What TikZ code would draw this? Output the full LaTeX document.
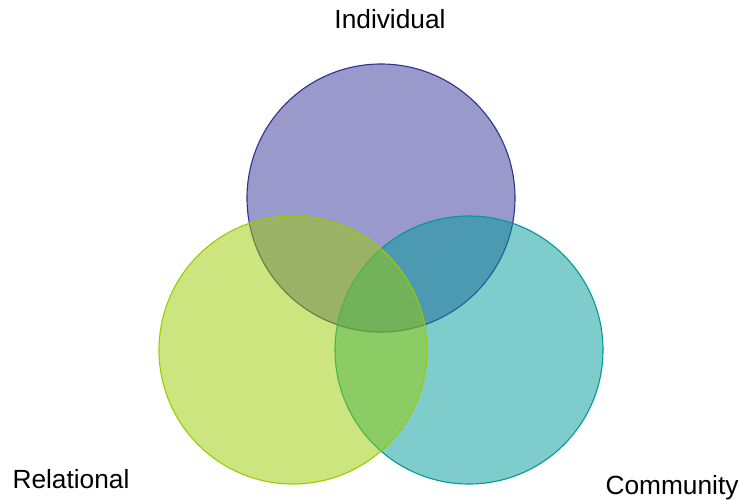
\documentclass[tikz,border=0pt]{standalone}
\usepackage{fontspec}
\setmainfont{Liberation Sans}
\definecolor{indfill}{HTML}{333399}
\definecolor{indline}{HTML}{2E3192}
\definecolor{relfill}{HTML}{99CC00}
\definecolor{comfill}{HTML}{009999}
\begin{document}
\begin{tikzpicture}[x=1pt,y=-1pt,
  venn/.style={circle, minimum size=268pt, inner sep=0pt, line width=1.1pt, fill opacity=0.5},
  lab/.style={anchor=base, font=\fontsize{26.3}{29}\selectfont, inner sep=0pt}]
\useasboundingbox (0,0) rectangle (739,499);
\node[venn, draw=indline, fill=indfill] (ind) at (381,198) {};
\node[venn, draw=comfill, fill=comfill] (com) at (469,350) {};
\node[venn, draw=relfill, fill=relfill] (rel) at (293,350) {};
\node[lab] (tind) at (390,28) {Individual};
\node[lab] (trel) at (71,488) {Relational};
\node[lab] (tcom) at (672,494) {Community};
\end{tikzpicture}
\end{document}
